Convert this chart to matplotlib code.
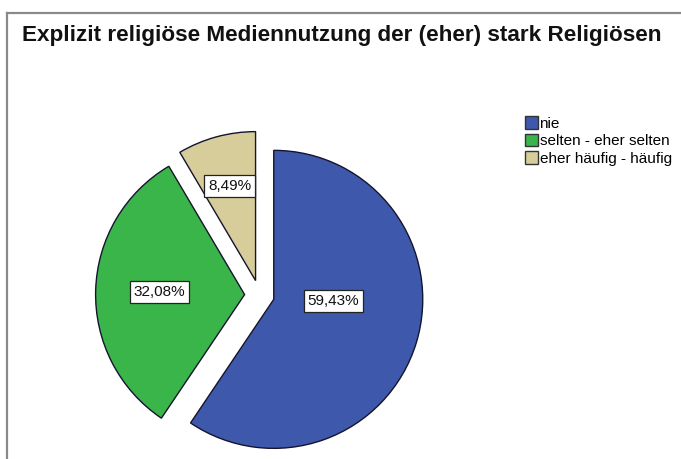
import numpy as np
import matplotlib
matplotlib.use("Agg")
import matplotlib.pyplot as plt
from matplotlib.lines import Line2D

title = "Explizit religiöse Mediennutzung der (eher) stark Religiösen"
categories = ["nie", "selten - eher selten", "eher häufig - häufig"]
values = [59.43, 32.08, 8.49]
colors = ["#3e58ac", "#3ab54a", "#d6cd9a"]

plt.rcParams['font.family'] = ['Liberation Sans', 'DejaVu Sans']

W, H = 681, 459
fig = plt.figure(figsize=(W / 100, H / 100), dpi=100)
fig.patch.set_facecolor("white")

# frame lines (top and left)
fig.add_artist(Line2D([7 / W, 1.0], [1 - 12.5 / H, 1 - 12.5 / H], color="#8a8a8a", lw=1.6))
fig.add_artist(Line2D([7 / W, 7 / W], [0, 1 - 12.5 / H], color="#8a8a8a", lw=1.6))

fig.text(22 / W, 1 - 35 / H, title, fontsize=16.2, fontweight="bold", ha="left",
         va="center", color="#111111")

cx, cy, r = 259.5, 295.0, 149.0
lim = 1.2
size = 2 * lim * r
ax = fig.add_axes([(cx - size / 2) / W, (H - cy - size / 2) / H, size / W, size / H])

wedges, _ = ax.pie(values, colors=colors, startangle=90, counterclock=False,
                   explode=[0.1, 0.1, 0.1],
                   wedgeprops=dict(edgecolor="#14142e", linewidth=1.0))
ax.set_xlim(-lim, lim)
ax.set_ylim(-lim, lim)
ax.set_aspect("equal")
ax.axis("off")
for w in wedges:
    w.set_clip_on(False)

label_dist = [0.4, 0.67, 0.76]
for k, (w, v, d) in enumerate(zip(wedges, values, label_dist)):
    ang = np.deg2rad((w.theta1 + w.theta2) / 2)
    ox, oy = w.center
    if k == 0:
        x, y = ox + d, -0.04
    else:
        x, y = d * np.cos(ang), d * np.sin(ang)
    ax.text(x, y, ("%.2f%%" % v).replace(".", ","), ha="center", va="center",
            fontsize=11, color="#111111",
            bbox=dict(boxstyle="square,pad=0.25", fc="white", ec="#222222", lw=0.9))

handles = [plt.Rectangle((0, 0), 1, 1, fc=c, ec="#333333", lw=1.0) for c in colors]
fig.legend(handles, categories, loc="upper left", bbox_to_anchor=(525 / W, 1 - 116 / H),
           frameon=False, fontsize=11, handlelength=0.85, handleheight=0.9,
           handletextpad=0.1, labelspacing=0.2, borderaxespad=0, borderpad=0)

fig.savefig("out.png", dpi=100)
